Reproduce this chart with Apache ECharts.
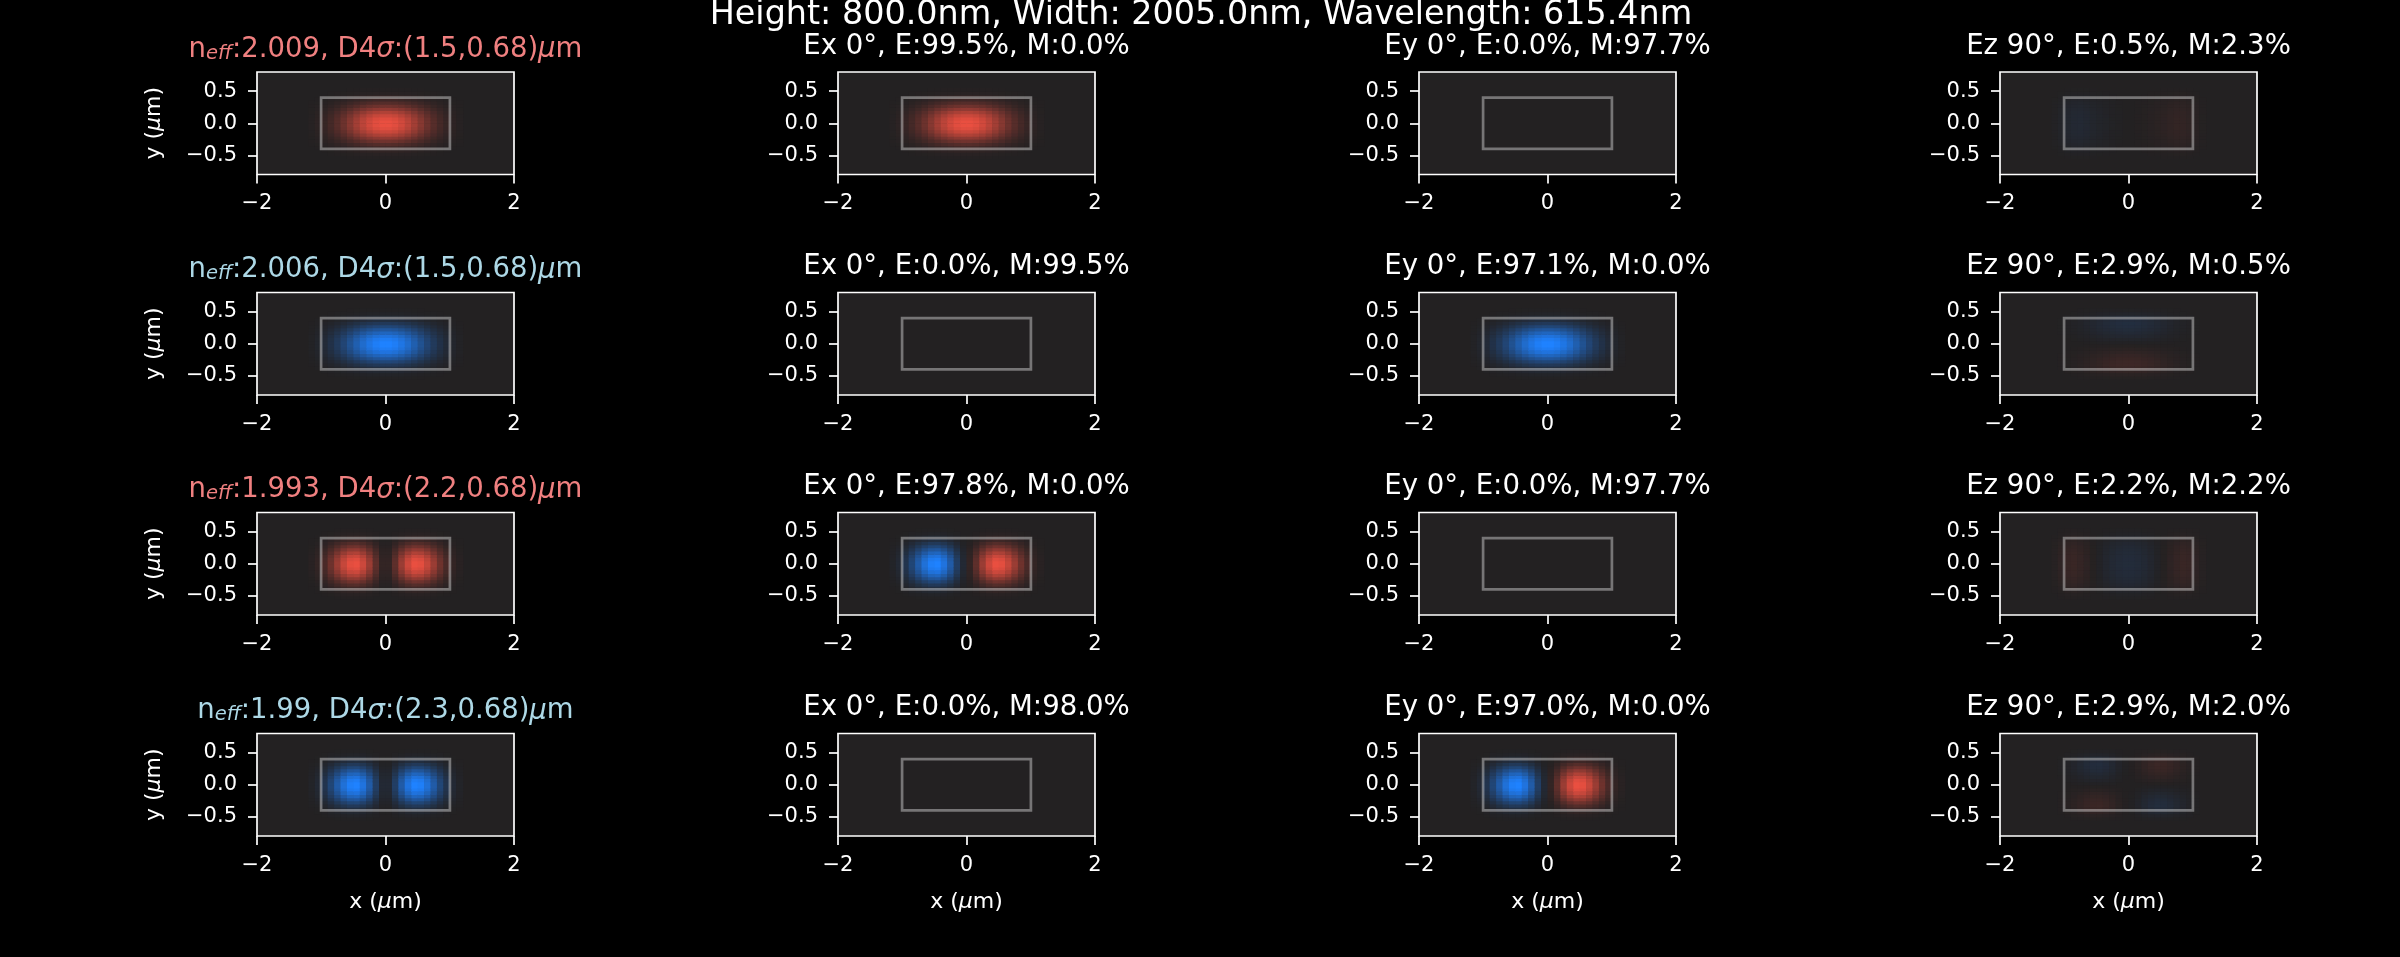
<!DOCTYPE html>
<html>
<head>
<meta charset="utf-8">
<script src="https://cdn.jsdelivr.net/npm/echarts@6/dist/echarts.min.js"></script>
<style>
  html, body { margin: 0; background: #000; }
  #modes { width: 2400px; height: 957px; }
</style>
</head>
<body>
<div id="modes"></div>
<script>
// --- data ---
const suptitle = 'Height: 800.0nm, Width: 2005.0nm, Wavelength: 615.4nm';
const neffs = ['2.009', '2.006', '1.993', '1.99'];
const d4sigmas = ['(1.5,0.68)', '(1.5,0.68)', '(2.2,0.68)', '(2.3,0.68)'];
const modeColors = ['#f08080', '#add8e6', '#f08080', '#add8e6'];
const componentTitles = [
  ['Ex 0°, E:99.5%, M:0.0%', 'Ey 0°, E:0.0%, M:97.7%', 'Ez 90°, E:0.5%, M:2.3%'],
  ['Ex 0°, E:0.0%, M:99.5%', 'Ey 0°, E:97.1%, M:0.0%', 'Ez 90°, E:2.9%, M:0.5%'],
  ['Ex 0°, E:97.8%, M:0.0%', 'Ey 0°, E:0.0%, M:97.7%', 'Ez 90°, E:2.2%, M:2.2%'],
  ['Ex 0°, E:0.0%, M:98.0%', 'Ey 0°, E:97.0%, M:0.0%', 'Ez 90°, E:2.9%, M:2.0%']
];
const xRange = [-2, 2];
const yRange = [-0.8, 0.8];
const xTicks = [-2, 0, 2];
const yTicks = [-0.5, 0, 0.5];
// waveguide core: x0, y0, x1, y1 (um)
const coreRect = [-1.0025, -0.4, 1.0025, 0.4];

// field sampling cells (centres, um)
const xCells = [-1.15, -1.05, -0.95, -0.85, -0.75, -0.65, -0.55, -0.45, -0.35, -0.25, -0.15, -0.05,
                0.05, 0.15, 0.25, 0.35, 0.45, 0.55, 0.65, 0.75, 0.85, 0.95, 1.05, 1.15];
const yCells = [-0.525, -0.475, -0.425, -0.375, -0.325, -0.275, -0.225, -0.175, -0.125, -0.075, -0.025,
                0.025, 0.075, 0.125, 0.175, 0.225, 0.275, 0.325, 0.375, 0.425, 0.475, 0.525];

// profiles across x
const xFund   = [0.02, 0.05, 0.1, 0.17, 0.26, 0.37, 0.5, 0.64, 0.77, 0.88, 0.96, 1.0,
                 1.0, 0.96, 0.88, 0.77, 0.64, 0.5, 0.37, 0.26, 0.17, 0.1, 0.05, 0.02];
const xLobes  = [0.03, 0.08, 0.2, 0.38, 0.6, 0.82, 0.97, 1.0, 0.85, 0.6, 0.3, 0.08,
                 0.08, 0.3, 0.6, 0.85, 1.0, 0.97, 0.82, 0.6, 0.38, 0.2, 0.08, 0.03];
const xFirst  = [-0.03, -0.08, -0.2, -0.38, -0.6, -0.82, -0.97, -1.0, -0.85, -0.6, -0.3, -0.08,
                 0.08, 0.3, 0.6, 0.85, 1.0, 0.97, 0.82, 0.6, 0.38, 0.2, 0.08, 0.03];
const xEzEdge = [-0.15, -0.4, -0.75, -0.95, -1.0, -0.85, -0.65, -0.48, -0.33, -0.2, -0.1, -0.03,
                 0.03, 0.1, 0.2, 0.33, 0.48, 0.65, 0.85, 1.0, 0.95, 0.75, 0.4, 0.15];
const xEzRing = [0.2, 0.5, 0.9, 1.0, 0.8, 0.5, 0.15, -0.2, -0.5, -0.75, -0.9, -1.0,
                 -1.0, -0.9, -0.75, -0.5, -0.2, 0.15, 0.5, 0.8, 1.0, 0.9, 0.5, 0.2];
// profiles across y (bottom to top)
const yFund = [0.01, 0.03, 0.07, 0.14, 0.25, 0.39, 0.55, 0.71, 0.85, 0.95, 1.0,
               1.0, 0.95, 0.85, 0.71, 0.55, 0.39, 0.25, 0.14, 0.07, 0.03, 0.01];
const yWide = [0.08, 0.17, 0.3, 0.45, 0.6, 0.72, 0.82, 0.9, 0.95, 0.98, 1.0,
               1.0, 0.98, 0.95, 0.9, 0.82, 0.72, 0.6, 0.45, 0.3, 0.17, 0.08];
const yOdd  = [-0.12, -0.3, -0.6, -0.9, -1.0, -0.96, -0.85, -0.68, -0.5, -0.3, -0.1,
               0.1, 0.3, 0.5, 0.68, 0.85, 0.96, 1.0, 0.9, 0.6, 0.3, 0.12];

// each panel: [x profile, y profile, amplitude]; null = empty field
const panelFields = [
  ['xFund', 'yFund', 1], ['xFund', 'yFund', 1], null, ['xEzEdge', 'yWide', 0.08],
  ['xFund', 'yFund', -1], null, ['xFund', 'yFund', -1], ['xFund', 'yOdd', -0.13],
  ['xLobes', 'yFund', 1], ['xFirst', 'yFund', 1], null, ['xEzRing', 'yWide', 0.11],
  ['xLobes', 'yFund', -1], null, ['xFirst', 'yFund', 1], ['xFirst', 'yOdd', 0.12]
];

// --- chart ---
const profiles = { xFund, xLobes, xFirst, xEzEdge, xEzRing, yFund, yWide, yOdd };
const cellW = 0.1, cellH = 0.05;
const FONT = 'DejaVu Sans';
const gridLefts = [257, 838, 1419, 2000];
const gridTops = [72, 292.5, 512.5, 733.5];
const gridW = 257, gridH = 102.5;

const fmtX = v => (v < 0 ? '\u2212' : '') + Math.abs(v);
const fmtY = v => (v < 0 ? '\u2212' : '') + Math.abs(v).toFixed(1);

function renderCell(params, api) {
  const x = api.value(0), y = api.value(1);
  const a = api.coord([x - cellW / 2, y + cellH / 2]);
  const b = api.coord([x + cellW / 2, y - cellH / 2]);
  return {
    type: 'rect',
    shape: { x: a[0], y: a[1], width: b[0] - a[0] + 0.6, height: b[1] - a[1] + 0.6 },
    style: { fill: api.visual('color') }
  };
}

function renderCore(params, api) {
  const a = api.coord([api.value(0), api.value(3)]);
  const b = api.coord([api.value(2), api.value(1)]);
  return {
    type: 'rect',
    shape: { x: a[0], y: a[1], width: b[0] - a[0], height: b[1] - a[1] },
    style: { fill: 'none', stroke: 'rgba(255,255,255,0.38)', lineWidth: 2.7 }
  };
}

const grids = [], xAxes = [], yAxes = [], series = [], cellSeries = [], texts = [];

for (let r = 0; r < 4; r++) {
  for (let c = 0; c < 4; c++) {
    const k = r * 4 + c;
    grids.push({
      left: gridLefts[c], top: gridTops[r], width: gridW, height: gridH,
      show: true, backgroundColor: '#232122', borderColor: '#fff', borderWidth: 1.7,
      containLabel: false, outerBoundsMode: 'none'
    });
    xAxes.push({
      type: 'value', gridIndex: k, position: 'bottom', min: xRange[0], max: xRange[1], interval: 2,
      axisLine: { show: false, onZero: false }, splitLine: { show: false },
      axisTick: { show: true, length: 9, customValues: xTicks, lineStyle: { color: '#fff', width: 1.7 } },
      axisLabel: { color: '#fff', fontSize: 21, fontFamily: FONT, margin: 19, customValues: xTicks, formatter: fmtX }
    });
    yAxes.push({
      type: 'value', gridIndex: k, position: 'left', min: yRange[0], max: yRange[1],
      axisLine: { show: false, onZero: false }, splitLine: { show: false },
      axisTick: { show: true, length: 9, customValues: yTicks, lineStyle: { color: '#fff', width: 1.7 } },
      axisLabel: { color: '#fff', fontSize: 21, fontFamily: FONT, margin: 20, customValues: yTicks, formatter: fmtY }
    });

    const spec = panelFields[k];
    if (spec) {
      const xp = profiles[spec[0]], yp = profiles[spec[1]], amp = spec[2];
      const data = [];
      xCells.forEach((x, i) => {
        yCells.forEach((y, j) => {
          const v = amp * xp[i] * yp[j];
          if (Math.abs(v) >= 0.004) data.push([x, y, v]);
        });
      });
      cellSeries.push(series.length);
      series.push({
        type: 'custom', xAxisIndex: k, yAxisIndex: k, renderItem: renderCell,
        data: data, encode: { x: 0, y: 1 }, clip: true, silent: true, z: 2
      });
    }
    series.push({
      type: 'custom', xAxisIndex: k, yAxisIndex: k, renderItem: renderCore,
      data: [coreRect], encode: { x: [0, 2], y: [1, 3] }, silent: true, z: 3
    });

    // panel titles
    const cx = gridLefts[c] + gridW / 2;
    const ty = gridTops[r] - 25.5;
    if (c === 0) {
      const col = modeColors[r];
      const base = { fill: col, fontSize: 27.5, fontFamily: FONT, lineHeight: 34, verticalAlign: 'bottom' };
      texts.push({
        type: 'text', x: cx, y: ty, silent: true,
        style: {
          text: '{a|n}{s|eff}{a|:' + neffs[r] + ', D4}{i|σ}{a|:' + d4sigmas[r] + '}{i|μ}{a|m}',
          align: 'center', verticalAlign: 'middle',
          rich: {
            a: base,
            s: { fill: col, fontSize: 19.5, fontFamily: FONT, fontStyle: 'italic', lineHeight: 22, verticalAlign: 'bottom' },
            i: Object.assign({}, base, { fontStyle: 'italic' })
          }
        }
      });
      // y label
      texts.push({
        type: 'text', x: 154, y: gridTops[r] + gridH / 2, rotation: Math.PI / 2, silent: true,
        style: {
          text: '{a|y (}{i|μ}{a|m)}', align: 'center', verticalAlign: 'middle',
          rich: {
            a: { fill: '#fff', fontSize: 22, fontFamily: FONT, lineHeight: 28 },
            i: { fill: '#fff', fontSize: 22, fontFamily: FONT, fontStyle: 'italic', lineHeight: 28 }
          }
        }
      });
    } else {
      texts.push({
        type: 'text', x: cx, y: ty, silent: true,
        style: {
          text: componentTitles[r][c - 1], fill: '#fff', fontSize: 27.6, fontFamily: FONT,
          lineHeight: 34, align: 'center', verticalAlign: 'middle'
        }
      });
    }
    if (r === 3) {
      texts.push({
        type: 'text', x: cx, y: 902, silent: true,
        style: {
          text: '{a|x (}{i|μ}{a|m)}', align: 'center', verticalAlign: 'middle',
          rich: {
            a: { fill: '#fff', fontSize: 22, fontFamily: FONT, lineHeight: 28 },
            i: { fill: '#fff', fontSize: 22, fontFamily: FONT, fontStyle: 'italic', lineHeight: 28 }
          }
        }
      });
    }
  }
}

texts.push({
  type: 'text', x: 1201, y: 15, silent: true,
  style: {
    text: suptitle, fill: '#fff', fontSize: 33.4, fontFamily: FONT,
    lineHeight: 38, align: 'center', verticalAlign: 'middle'
  }
});

const modesChart = echarts.init(document.getElementById('modes'));
modesChart.setOption({
  animation: false,
  backgroundColor: '#000',
  textStyle: { fontFamily: FONT },
  grid: grids,
  xAxis: xAxes,
  yAxis: yAxes,
  visualMap: {
    type: 'continuous', show: false, min: -1, max: 1, dimension: 2,
    seriesIndex: cellSeries,
    inRange: { color: ['#1f82ff', '#232122', '#e94f40'] }
  },
  graphic: { elements: texts },
  series: series
});

window.addEventListener('resize', () => modesChart.resize());
</script>
</body>
</html>
